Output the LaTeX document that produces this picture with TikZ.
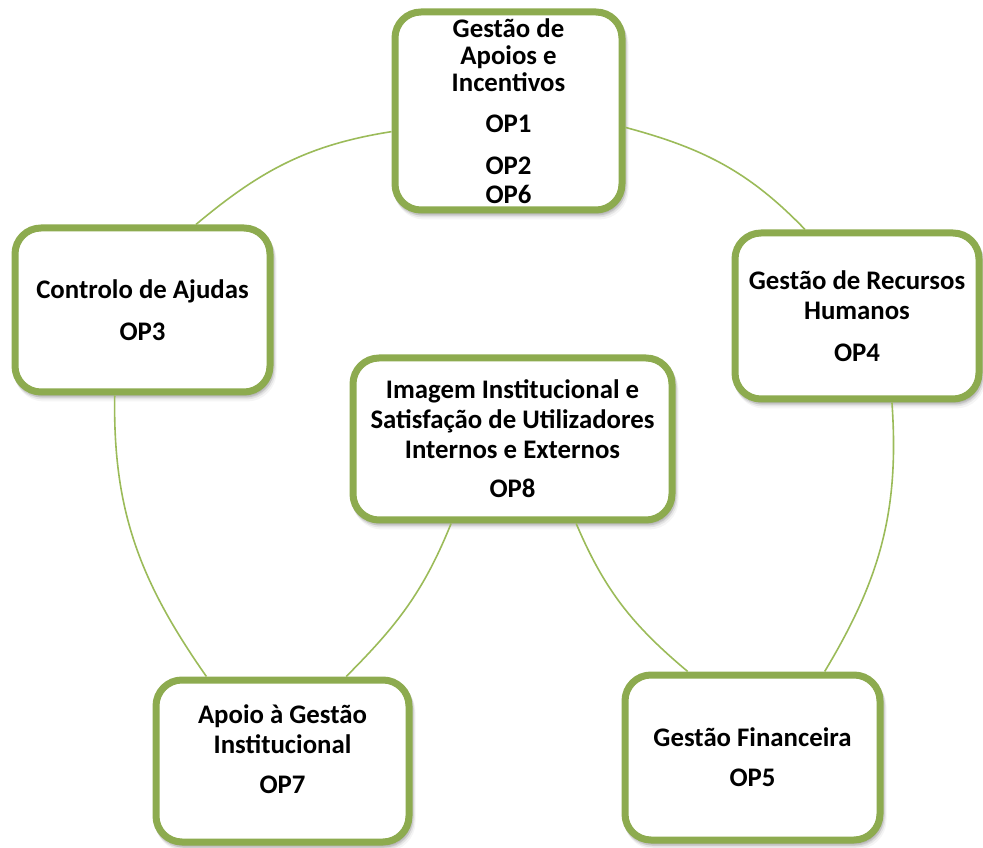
\documentclass[tikz,border=0pt]{standalone}
\usepackage{fontspec}
\setmainfont{Carlito}
\usetikzlibrary{shadows}
\definecolor{boxgreen}{RGB}{141,171,79}
\definecolor{linkgreen}{RGB}{155,187,89}
\tikzset{
  box/.style={draw=boxgreen, line width=7pt, fill=white, rounded corners=26pt,
    inner sep=0pt, rectangle,
    general shadow={draw=black, fill=black, opacity=0.10, line width=7pt, shadow xshift=1pt, shadow yshift=-2pt},
    general shadow={draw=black, fill=black, opacity=0.07, line width=7pt, shadow xshift=2pt, shadow yshift=-4pt},
    general shadow={draw=black, fill=black, opacity=0.04, line width=7pt, shadow xshift=3pt, shadow yshift=-6pt}},
  lbl/.style={align=center, inner sep=0pt, font=\fontsize{26.8}{30}\selectfont\bfseries},
  link/.style={draw=linkgreen, line width=1.6pt}
}
\begin{document}
\begin{tikzpicture}[x=1pt,y=1pt]
\useasboundingbox (0,0) rectangle (983,847);
\coordinate (cA) at (508.5,736);
\coordinate (cC) at (142.5,537);
\coordinate (cR) at (857,531);
\coordinate (cI) at (512.5,408);
\coordinate (cP) at (282.5,86);
\coordinate (cF) at (752.5,89.5);
% boxes
\node[box, minimum width=227pt, minimum height=198pt] (A) at (cA) {};
\node[box, minimum width=255pt, minimum height=164pt] (C) at (cC) {};
\node[box, minimum width=244pt, minimum height=166pt] (R) at (cR) {};
\node[box, minimum width=319pt, minimum height=162pt] (I) at (cI) {};
\node[box, minimum width=253pt, minimum height=162pt] (P) at (cP) {};
\node[box, minimum width=255pt, minimum height=165pt] (F) at (cF) {};
% connectors
\draw[link] (A.190) to[out=189, in=40] (C.58);
\draw[link] (A.-8) to[out=-15, in=134] (R.121);
\draw[link] (C.-108) to[out=-91, in=125] (P.132);
\draw[link] (R.-68) to[out=-86, in=59] (F.50);
\draw[link] (I.-126) to[out=-112, in=45] (P.53);
\draw[link] (I.-53) to[out=-67, in=140] (F.127);
% texts
\node[lbl] (tA) at (A.center) {Gestão de\\[-3pt]Apoios e\\[-3pt]Incentivos\\[11pt]OP1\\[12pt]OP2\\[-1pt]OP6};
\node[lbl] (tC) at (C.center) {Controlo de Ajudas\\[12pt]OP3};
\node[lbl] (tR) at (R.center) {Gestão de Recursos\\Humanos\\[12pt]OP4};
\node[lbl] (tI) at (I.center) {Imagem Institucional e\\Satisfação de Utilizadores\\Internos e Externos\\[9pt]OP8};
\node[lbl] (tP) at ([yshift=12pt]P.center) {Apoio à Gestão\\Institucional\\[10pt]OP7};
\node[lbl] (tF) at (F.center) {Gestão Financeira\\[10pt]OP5};
\end{tikzpicture}
\end{document}
